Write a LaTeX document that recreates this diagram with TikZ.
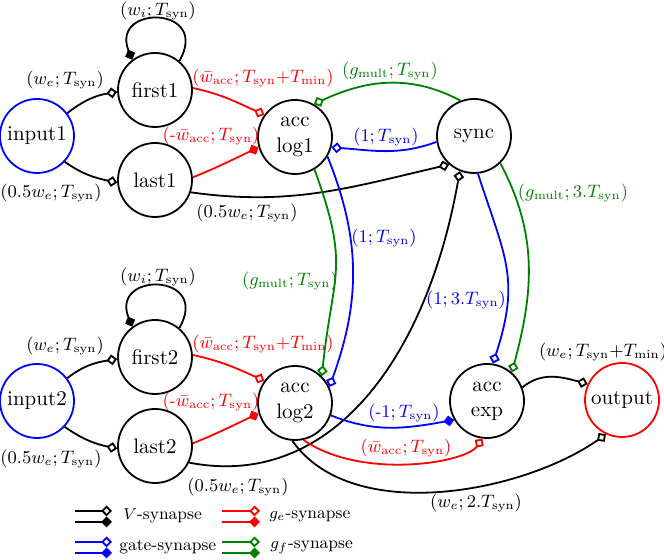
\documentclass[tikz,border=0pt]{standalone}
\usetikzlibrary{arrows.meta}
\definecolor{myblue}{RGB}{0,0,255}
\definecolor{myred}{RGB}{255,0,0}
\definecolor{mygreen}{RGB}{0,128,0}
\newcommand{\nodefont}{\fontsize{10.5}{12.6}\selectfont}
\newcommand{\labfont}{\fontsize{8.6}{10.5}\selectfont}
\newcommand{\legfont}{\fontsize{8.5}{10}\selectfont}
\newcommand{\rmsub}[1]{\mathrm{#1}}
\tikzset{
  nd/.style={circle,draw,line width=0.9pt,minimum size=37pt,inner sep=0pt,font=\nodefont,align=center},
  con/.style={line width=0.9pt},
  opentip/.style={-{Diamond[open,length=5.4pt,width=5.4pt]}},
  filltip/.style={-{Diamond[length=5.4pt,width=5.4pt]}},
  vs/.style={con,draw=black,opentip},
  vi/.style={con,draw=black,filltip},
  ge/.style={con,draw=myred,opentip},
  gei/.style={con,draw=myred,filltip},
  gs/.style={con,draw=myblue,opentip},
  gsi/.style={con,draw=myblue,filltip},
  gf/.style={con,draw=mygreen,opentip},
  gfi/.style={con,draw=mygreen,filltip},
  lab/.style={font=\labfont,inner sep=0pt},
  leg/.style={font=\legfont,inner sep=0pt,anchor=west}
}
\begin{document}
\begin{tikzpicture}[x=0.5pt,y=0.5pt]
\useasboundingbox (0,0) rectangle (664,560);
% nodes
\node[nd,draw=myblue] (input1) at (37,424) {input1};
\node[nd] (first1) at (155,470) {first1};
\node[nd] (last1) at (155,380) {last1};
\node[nd] (acclog1) at (295,423) {acc\\log1};
\node[nd] (sync) at (474,424) {sync};
\node[nd,draw=myblue] (input2) at (37,159) {input2};
\node[nd] (first2) at (155,203) {first2};
\node[nd] (last2) at (155,114) {last2};
\node[nd] (acclog2) at (295,157) {acc\\log2};
\node[nd] (accexp) at (487,159) {acc\\exp};
\node[nd,draw=myred] (output) at (622,160) {output};
% upper group
\draw[vs] (input1.37) to[out=38,in=189] (first1.183);
\draw[vs] (input1.-43) to[out=-35,in=168] (last1.184);
\draw[vi] (first1.50) .. controls +(60:64) and +(112:60) .. (first1.127);
\draw[ge] (first1.3) to[out=-12,in=156] (acclog1.144);
\draw[gei] (last1.4) to[out=22,in=205] (acclog1.196);
\draw[vs] (last1.-19) to[out=-8,in=193] (sync.229);
\draw[gf] (sync.111) to[out=152,in=25] (acclog1.60);
\draw[gs] (sync.189) to[out=200,in=-4] (acclog1.-16);
\draw[gf] (acclog1.-59) to[out=-70,in=84,looseness=1.3] (acclog2.45);
\draw[gs] (acclog1.-31) to[out=-68,in=70] (acclog2.25);
\draw[gs] (sync.-84) to[out=-72,in=72,looseness=1.2] (accexp.81);
\draw[gf] (sync.-46) to[out=-62,in=75] (accexp.49);
% lower group
\draw[vs] (input2.37) to[out=38,in=189] (first2.183);
\draw[vs] (input2.-43) to[out=-35,in=168] (last2.184);
\draw[vi] (first2.50) .. controls +(60:64) and +(112:60) .. (first2.127);
\draw[ge] (first2.3) to[out=-12,in=156] (acclog2.144);
\draw[gei] (last2.4) to[out=22,in=205] (acclog2.196);
\draw[vs] (last2.-26) .. controls +(-11:145) and +(260:189) .. (sync.248);
\draw[vs] (acclog2.-94) .. controls +(-55:103) and +(215:103) .. (output.245);
\draw[ge] (acclog2.-77) .. controls +(-35:70) and +(235:30) .. (accexp.263);
\draw[gsi] (acclog2.-19) to[out=-22,in=190] (accexp.210);
\draw[vs] (accexp.21) to[out=40,in=165] (output.155);
% labels upper
\node[lab] (l1) at (65,480) {$(w_e;T_{\rmsub{syn}})$};
\node[lab] (l2) at (51,367) {$(0.5w_e;T_{\rmsub{syn}})$};
\node[lab] (l3) at (158,549) {$(w_i;T_{\rmsub{syn}})$};
\node[lab,text=myred] (l4) at (263,482) {$(\bar w_{\rmsub{acc}};T_{\rmsub{syn}}{+}T_{\rmsub{min}})$};
\node[lab,text=myred] (l5) at (211,424) {$(\mbox{-}\bar w_{\rmsub{acc}};T_{\rmsub{syn}})$};
\node[lab] (l6) at (247,347) {$(0.5w_e;T_{\rmsub{syn}})$};
\node[lab,text=mygreen] (l7) at (390,489) {$(g_{\rmsub{mult}};T_{\rmsub{syn}})$};
\node[lab,text=myblue] (l8) at (386,423) {$(1;T_{\rmsub{syn}})$};
\node[lab,text=myblue] (l9) at (384,322) {$(1;T_{\rmsub{syn}})$};
\node[lab,text=mygreen] (l10) at (290,279) {$(g_{\rmsub{mult}};T_{\rmsub{syn}})$};
\node[lab,text=mygreen] (l11) at (573,367) {$(g_{\rmsub{mult}};3.T_{\rmsub{syn}})$};
\node[lab,text=myblue] (l12) at (466,260) {$(1;3.T_{\rmsub{syn}})$};
% labels lower
\node[lab] (m1) at (65,214) {$(w_e;T_{\rmsub{syn}})$};
\node[lab] (m2) at (51,101) {$(0.5w_e;T_{\rmsub{syn}})$};
\node[lab] (m3) at (158,283) {$(w_i;T_{\rmsub{syn}})$};
\node[lab,text=myred] (m4) at (263,216) {$(\bar w_{\rmsub{acc}};T_{\rmsub{syn}}{+}T_{\rmsub{min}})$};
\node[lab,text=myred] (m5) at (211,158) {$(\mbox{-}\bar w_{\rmsub{acc}};T_{\rmsub{syn}})$};
\node[lab] (m6) at (238,73) {$(0.5w_e;T_{\rmsub{syn}})$};
\node[lab,text=myblue] (m7) at (404,147) {$(\mbox{-}1;T_{\rmsub{syn}})$};
\node[lab,text=myred] (m8) at (406,112) {$(\bar w_{\rmsub{acc}};T_{\rmsub{syn}})$};
\node[lab] (m9) at (476,57) {$(w_e;2.T_{\rmsub{syn}})$};
\node[lab] (m10) at (603,208) {$(w_e;T_{\rmsub{syn}}{+}T_{\rmsub{min}})$};
% legend
\coordinate (ka1) at (75,49); \coordinate (ka2) at (112,49);
\coordinate (kb1) at (75,38); \coordinate (kb2) at (112,38);
\coordinate (kc1) at (222,49); \coordinate (kc2) at (260,49);
\coordinate (kd1) at (222,38); \coordinate (kd2) at (260,38);
\coordinate (ke1) at (75,18); \coordinate (ke2) at (112,18);
\coordinate (kf1) at (75,7); \coordinate (kf2) at (112,7);
\coordinate (kg1) at (222,18); \coordinate (kg2) at (260,18);
\coordinate (kh1) at (222,7); \coordinate (kh2) at (260,7);
\draw[vs] (ka1) -- (ka2);
\draw[vi] (kb1) -- (kb2);
\draw[ge] (kc1) -- (kc2);
\draw[gei] (kd1) -- (kd2);
\draw[gs] (ke1) -- (ke2);
\draw[gsi] (kf1) -- (kf2);
\draw[gf] (kg1) -- (kg2);
\draw[gfi] (kh1) -- (kh2);
\node[leg] (t1) at (123,44) {$V$-synapse};
\node[leg] (t2) at (269,44) {$g_e$-synapse};
\node[leg] (t3) at (119,13) {gate-synapse};
\node[leg] (t4) at (270,13) {$g_f$-synapse};
\end{tikzpicture}
\end{document}
